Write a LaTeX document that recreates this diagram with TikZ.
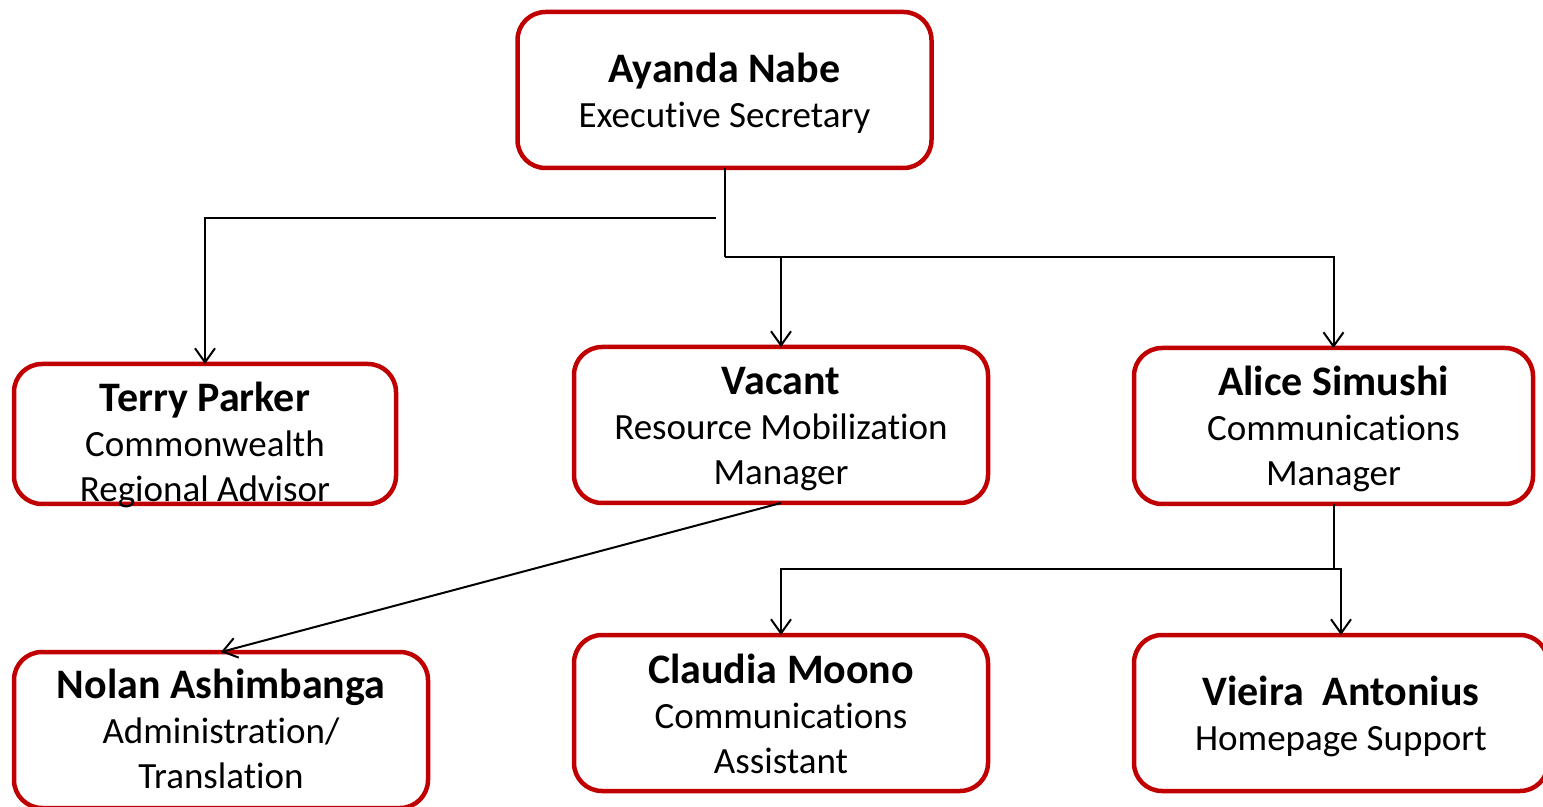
\documentclass[tikz,border=0pt]{standalone}
\usepackage{fontspec}
\setmainfont{Carlito}[Ligatures=NoCommon]
\usetikzlibrary{arrows.meta, positioning}
\definecolor{boxred}{HTML}{C00000}
\newcommand{\pname}[1]{{\fontsize{21}{22.5}\selectfont\bfseries #1}}

\begin{document}
\begin{tikzpicture}[
		x=0.5pt, y=-0.5pt,
		box/.style={draw=boxred, line width=2.25pt, rounded corners=14pt, align=center, inner sep=0pt, outer sep=0pt, minimum width=207pt, minimum height=78pt, text height=43pt, text depth=5pt, font=\fontsize{18.5}{22.5}\selectfont},
		tallbox/.style={box, text height=65pt},
		arrow/.style={-{Straight Barb[length=7pt,width=10pt]}, line width=1pt},
		link/.style={line width=1pt},
		node distance=66pt
		]
		\useasboundingbox (0,0) rectangle (1543,807);
		
		% Executive Secretary
		\node[box] (ayanda) at (724.5,90) {\pname{Ayanda Nabe}\\Executive Secretary};
		
		% second row
		\node[tallbox, minimum width=191pt, minimum height=70pt, text height=68pt, text depth=0pt] (terry) at (205,434) {\pname{Terry Parker}\\Commonwealth\\Regional Advisor};
		\node[tallbox] (vacant) at (781,425) {\pname{Vacant}\\Resource Mobilization\\Manager};
		\node[tallbox, minimum width=199.5pt] (alice) at (1333.5,426) {\pname{Alice Simushi}\\Communications\\Manager};
		
		% third row
		\node[tallbox, text height=63pt] (nolan) at (221,730) {\pname{Nolan Ashimbanga}\\Administration/\\Translation};
		\node[tallbox, below=of vacant] (claudia) {\pname{Claudia Moono}\\Communications\\Assistant};
		\node[box, text height=42pt] (vieira) at (1341,713) {\pname{Vieira\ \ Antonius}\\Homepage Support};
		
		% Arrows
		\coordinate (split) at (724.5,257);
		\coordinate (tleft) at (716,218);
		\coordinate (split2) at (1333.5,569);
		\draw[link] (ayanda.south) -- (split);
		\draw[arrow] (split) -| (alice.north);
		\draw[arrow] (split -| vacant.north) -- (vacant.north);
		\draw[arrow] (tleft) -| (terry.north);
		\draw[arrow] (vacant.south) -- (nolan.north);
		\draw[link] (alice.south) -- (split2);
		\draw[arrow] (split2) -| (claudia.north);
		\draw[arrow] (split2) -| (vieira.north);
		
	\end{tikzpicture}
\end{document}
